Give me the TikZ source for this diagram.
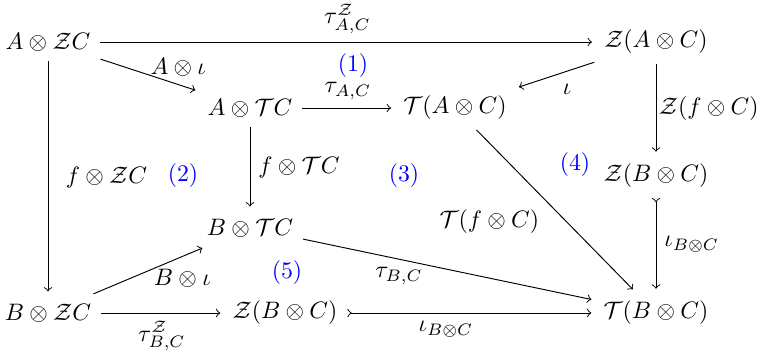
\documentclass[tikz,border=0pt]{standalone}
\usepackage{amsmath}
\usepackage{amssymb}

\begin{document}
\begin{tikzpicture}[x=0.42pt,y=-0.42pt,
  obj/.style={inner sep=4pt},
  arr/.style={->,shorten >=1pt},
  mono/.style={>->,shorten >=1pt},
  num/.style={text=blue}]
\useasboundingbox (0,0) rectangle (758,360);
% objects
\node[obj] (AZC) at (48,42) {$A\otimes\mathcal{Z}C$};
\node[obj] (ZAC) at (656,42) {$\mathcal{Z}(A\otimes C)$};
\node[obj] (ATC) at (250,108) {$A\otimes\mathcal{T}C$};
\node[obj] (TAC) at (455,108) {$\mathcal{T}(A\otimes C)$};
\node[obj] (ZBCr) at (656,176) {$\mathcal{Z}(B\otimes C)$};
\node[obj] (BTC) at (250,228) {$B\otimes\mathcal{T}C$};
\node[obj] (BZC) at (48,313) {$B\otimes\mathcal{Z}C$};
\node[obj] (ZBC) at (285,313) {$\mathcal{Z}(B\otimes C)$};
\node[obj] (TBC) at (656,313) {$\mathcal{T}(B\otimes C)$};

% arrows
\draw[arr] (AZC) -- node[above] {$\tau^{\mathcal{Z}}_{A,C}$} (ZAC);
\draw[arr] (AZC) -- node[pos=0.8,above] {$A\otimes\iota$} (ATC);
\draw[arr] (ATC) -- node[above] {$\tau_{A,C}$} (TAC);
\draw[arr] (ZAC) -- node[pos=0.35,below=2pt] {$\iota$} (TAC);
\draw[arr] (ZAC) -- node[right,inner sep=1pt] {$\mathcal{Z}(f\otimes C)$} (ZBCr);
\draw[arr] (AZC) -- node[right=4pt] {$f\otimes\mathcal{Z}C$} (BZC);
\draw[arr] (ATC) -- node[right] {$f\otimes\mathcal{T}C$} (BTC);
\draw[arr] (TAC) -- node[pos=0.57,left=8pt] {$\mathcal{T}(f\otimes C)$} (TBC);
\draw[mono] (ZBCr) -- node[right] {$\iota_{B\otimes C}$} (TBC);
\draw[arr] (BTC) -- node[pos=0.33,below] {$\tau_{B,C}$} (TBC);
\draw[arr] (BZC) -- node[pos=0.8,below=2pt] {$B\otimes\iota$} (BTC);
\draw[arr] (BZC) -- node[below] {$\tau^{\mathcal{Z}}_{B,C}$} (ZBC);
\draw[mono] (ZBC) -- node[pos=0.4,below] {$\iota_{B\otimes C}$} (TBC);

% region numbers
\node[num] (n1) at (353,66) {(1)};
\node[num] (n2) at (183,176) {(2)};
\node[num] (n3) at (404,176) {(3)};
\node[num] (n4) at (575,165) {(4)};
\node[num] (n5) at (287,273) {(5)};
\end{tikzpicture}
\end{document}
